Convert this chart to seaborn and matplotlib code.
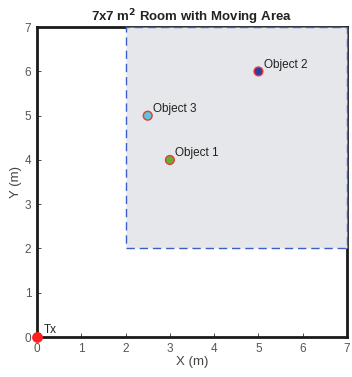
import pandas as pd
import seaborn as sns
import matplotlib
matplotlib.use('Agg')
import matplotlib.pyplot as plt
from matplotlib.patches import Rectangle

# data
room_size = 7
area_min = [2, 2]
area_max = [7, 7]
names = ['Object 1', 'Object 2', 'Object 3']
obj_x = [3, 5, 2.5]
obj_y = [4, 6, 5]
obj_colors = ['#66b032', '#2a3f9e', '#5bc8d8']
tx_x = [0]
tx_y = [0]
ticks = list(range(0, 8))

sns.set_style('white', {'xtick.bottom': True, 'ytick.left': True})
plt.rcParams['font.family'] = ['Liberation Sans', 'DejaVu Sans']

fig = plt.figure(figsize=(3.52, 3.77), dpi=100)
ax = fig.add_axes([0.105, 0.106, 0.881, 0.822])

# moving area drawn over the room border, like the reference
ax.add_patch(Rectangle((area_min[0], area_min[1]),
                       area_max[0] - area_min[0], area_max[1] - area_min[1],
                       facecolor='#e6e7ea', edgecolor='#3a5fcd',
                       linestyle=(0, (6, 3.5)), linewidth=1.0, zorder=2.6,
                       clip_on=False))

df = pd.DataFrame({'x': obj_x, 'y': obj_y, 'name': names})
sns.scatterplot(data=df, x='x', y='y', hue='name', palette=obj_colors,
                s=40, edgecolor='#e8383d', linewidth=1.0, legend=False,
                ax=ax, zorder=3)
for x, y, n in zip(obj_x, obj_y, names):
    ax.text(x + 0.12, y + 0.08, n, fontsize=8.5, color='#222222', zorder=4)

ax.scatter(tx_x, tx_y, color='#ff2020', s=60, marker='o', linewidths=0,
           zorder=5, clip_on=False)
ax.text(tx_x[0] + 0.15, tx_y[0] + 0.08, 'Tx', fontsize=8.5, color='#222222')

ax.set_xlim(0, room_size)
ax.set_ylim(0, room_size)
ax.set_xticks(ticks)
ax.set_yticks(ticks)
ax.tick_params(direction='in', length=3, width=0.6, colors='#333333',
               labelcolor='#555555', labelsize=8.5, pad=4)
for sp in ax.spines.values():
    sp.set_visible(True)
    sp.set_color('#1a1a1a')
    sp.set_linewidth(2.0)
ax.set_xlabel('X (m)', fontsize=9.5, color='#444444', labelpad=1)
ax.set_ylabel('Y (m)', fontsize=9.5, color='#444444', labelpad=2)
ax.set_title('7x7 m$^\\mathbf{2}$ Room with Moving Area', fontsize=9.5,
             fontweight='bold', color='#222222', pad=4)

fig.savefig('out.png', dpi=100)
